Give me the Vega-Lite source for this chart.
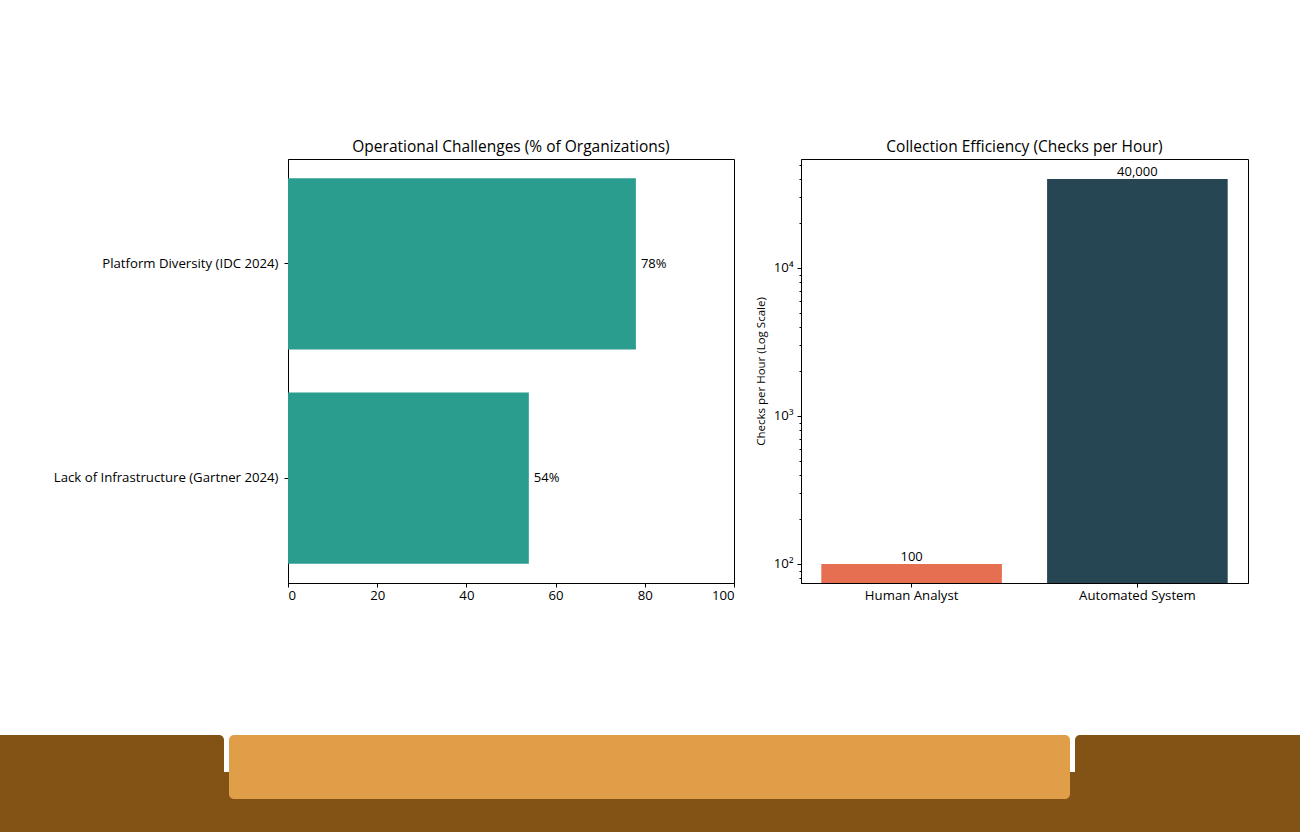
{
  "$schema": "https://vega.github.io/schema/vega-lite/v6.json",
  "background": "white",
  "autosize": {"type": "pad"},
  "padding": {"top": 139, "left": 0, "right": 0, "bottom": 0},
  "config": {
    "font": "Open Sans",
    "view": {"stroke": "black", "strokeWidth": 1},
    "title": {"fontSize": 15.5, "fontWeight": "normal", "color": "black", "offset": 4},
    "axis": {
      "labelFontSize": 13.2, "labelColor": "black", "tickColor": "black", "domainColor": "black", "labelLimit": 400,
      "tickSize": 4, "labelPadding": 4, "grid": false, "titleFontWeight": "normal", "titleColor": "black"
    },
    "text": {"fontSize": 13, "color": "black"}
  },
  "spacing": 133,
  "vconcat": [
    {
      "spacing": 19,
      "hconcat": [
        {
          "width": 446,
          "height": 424,
          "title": "Operational Challenges (% of Organizations)",
          "data": {"values": [
            {"challenge": "Platform Diversity (IDC 2024)", "pct": 78, "label": "78%"},
            {"challenge": "Lack of Infrastructure (Gartner 2024)", "pct": 54, "label": "54%"}
          ]},
          "encoding": {
            "y": {"field": "challenge", "type": "nominal", "sort": null,
                  "scale": {"paddingInner": 0.2, "paddingOuter": 0.09},
                  "axis": {"title": null, "labelPadding": 6}},
            "x": {"field": "pct", "type": "quantitative",
                  "scale": {"domain": [0, 100], "nice": false},
                  "axis": {"title": null, "values": [0, 20, 40, 60, 80, 100], "labelPadding": 2}}
          },
          "layer": [
            {"mark": {"type": "bar", "color": "#2a9d8f"}},
            {"mark": {"type": "text", "align": "left", "baseline": "middle", "dx": 5},
             "encoding": {"text": {"field": "label"}}}
          ]
        },
        {
          "width": 447,
          "height": 424,
          "title": "Collection Efficiency (Checks per Hour)",
          "data": {"values": [
            {"role": "Human Analyst", "checks": 100},
            {"role": "Automated System", "checks": 40000}
          ]},
          "encoding": {
            "x": {"field": "role", "type": "nominal", "sort": null,
                  "scale": {"paddingInner": 0.2, "paddingOuter": 0.09},
                  "axis": {"title": null, "labelAngle": 0, "labelPadding": 2}},
            "y": {"field": "checks", "type": "quantitative",
                  "scale": {"type": "log", "domain": [74.4, 54500], "nice": false},
                  "axis": {
                    "title": "Checks per Hour (Log Scale)", "titleFontSize": 11.5, "titlePadding": 7,
                    "values": [80, 90, 100, 200, 300, 400, 500, 600, 700, 800, 900, 1000, 2000, 3000, 4000, 5000, 6000, 7000, 8000, 9000, 10000, 20000, 30000, 40000, 50000],
                    "labelExpr": "datum.value == 100 ? '10²' : datum.value == 1000 ? '10³' : datum.value == 10000 ? '10⁴' : ''",
                    "tickSize": {"condition": {"test": "datum.value == 100 || datum.value == 1000 || datum.value == 10000", "value": 4}, "value": 2}
                  }}
          },
          "layer": [
            {"mark": "bar",
             "encoding": {
               "y2": {"datum": 74.4},
               "color": {"field": "role", "type": "nominal",
                         "scale": {"domain": ["Human Analyst", "Automated System"], "range": ["#e76f51", "#264653"]},
                         "legend": null}}},
            {"mark": {"type": "text", "baseline": "bottom", "dy": 0},
             "encoding": {"text": {"field": "checks", "type": "quantitative", "format": ","}}}
          ]
        }
      ]
    },
    {
      "width": 1012,
      "height": 97,
      "view": {"stroke": null},
      "encoding": {
        "x": {"field": "x0", "type": "quantitative", "scale": {"domain": [288, 1300], "nice": false, "zero": false}, "axis": null},
        "x2": {"field": "x1"},
        "y": {"field": "y0", "type": "quantitative", "scale": {"domain": [735, 832], "reverse": true, "nice": false, "zero": false}, "axis": null},
        "y2": {"field": "y1"}
      },
      "layer": [
        {"data": {"values": [{"x0": 0, "x1": 1300, "y0": 772, "y1": 832}]},
         "mark": {"type": "rect", "color": "#835316"}},
        {"data": {"values": [{"x0": 0, "x1": 224, "y0": 735, "y1": 832}]},
         "mark": {"type": "rect", "color": "#835316", "cornerRadiusTopRight": 5}},
        {"data": {"values": [{"x0": 1075, "x1": 1300, "y0": 735, "y1": 832}]},
         "mark": {"type": "rect", "color": "#835316", "cornerRadiusTopLeft": 5}},
        {"data": {"values": [{"x0": 229, "x1": 1070, "y0": 735, "y1": 799}]},
         "mark": {"type": "rect", "color": "#e19e49", "cornerRadius": 5}}
      ]
    }
  ]
}
